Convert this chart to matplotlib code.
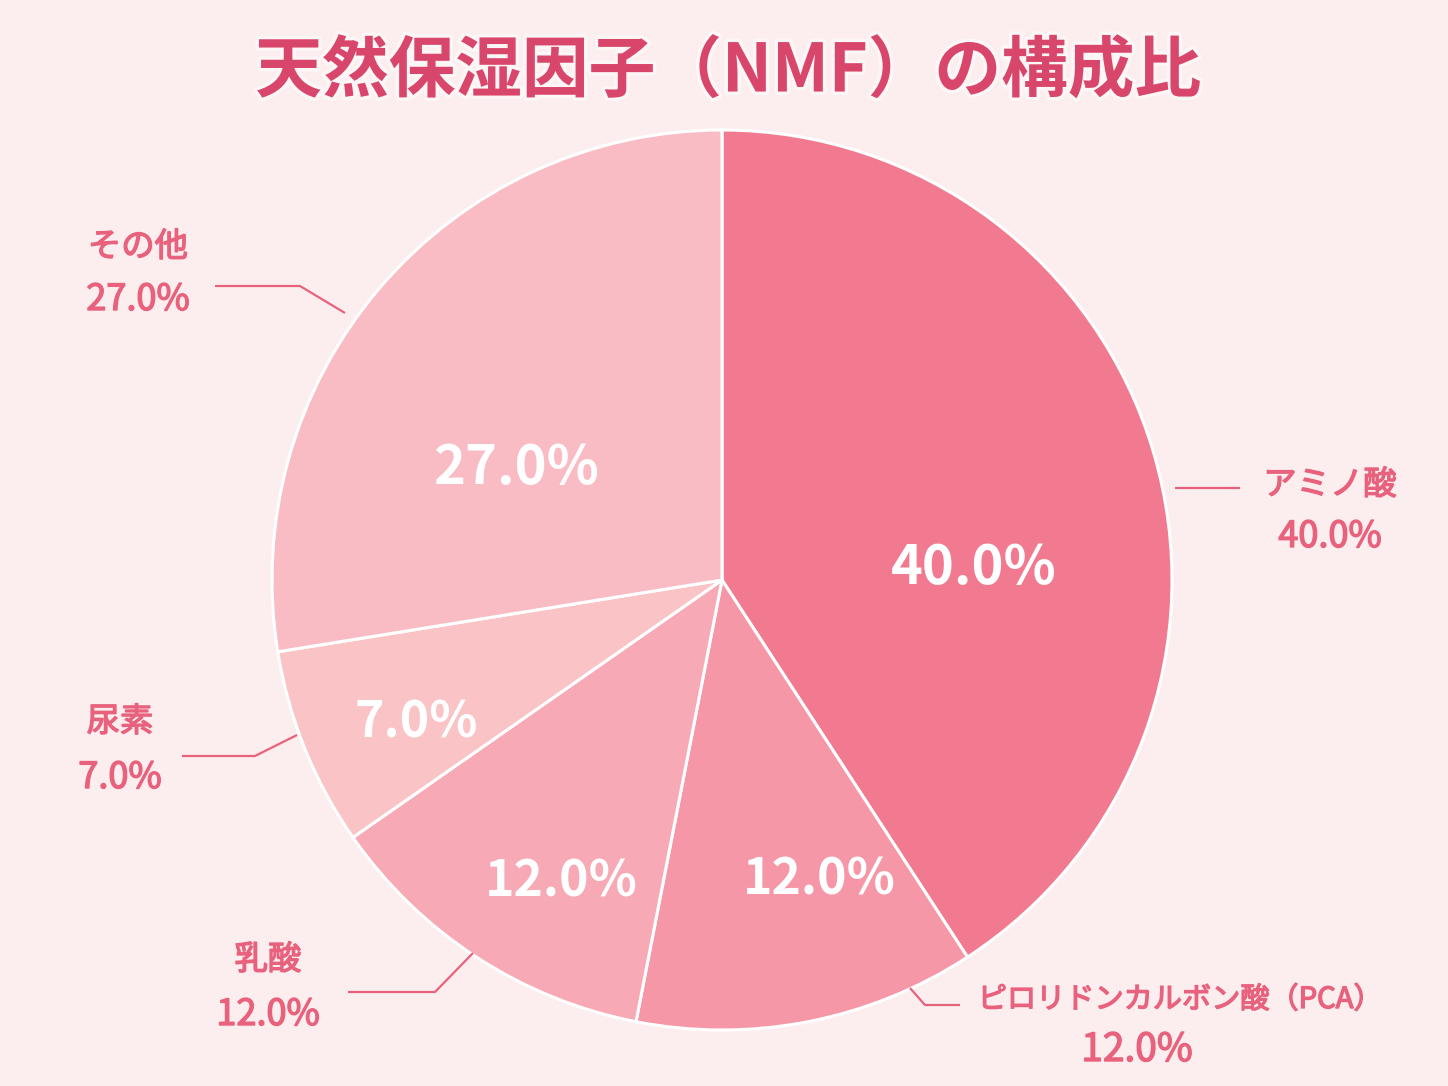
import numpy as np
import matplotlib
matplotlib.use("Agg")
import matplotlib.pyplot as plt
import matplotlib.patheffects as pe

plt.rcParams['font.family'] = ['Noto Sans CJK JP', 'DejaVu Sans']

# データ
names = ["アミノ酸", "ピロリドンカルボン酸（PCA）", "乳酸", "尿素", "その他"]
values = [40.0, 12.0, 12.0, 7.0, 27.0]
colors = ["#F27A90", "#F597A7", "#F7A9B5", "#FAC4C6", "#F9BCC5"]

BG = "#FCEEEF"
TITLE_C = "#D9466B"
LABEL_C = "#E8627E"

W, H = 1448, 1086
fig = plt.figure(figsize=(W / 100, H / 100), dpi=100, facecolor=BG)
ax = fig.add_axes([0, 0, 1, 1])
ax.set_facecolor(BG)

cx, cy, R = 722, H - 580, 450
wedges, _ = ax.pie(values, colors=colors, startangle=90, counterclock=False,
                   center=(cx, cy), radius=R, frame=True,
                   wedgeprops=dict(edgecolor="white", linewidth=2.2))
ax.set_xlim(0, W)
ax.set_ylim(0, H)
ax.set_aspect("equal")
ax.axis("off")

# 内側のパーセント
inner_r = [0.56, 0.70, 0.76, 0.75, 0.52]
inner_shift = [-14, 7, 5, 3, 12]   # 角度の微調整
for w, v, fr, sh in zip(wedges, values, inner_r, inner_shift):
    ang = np.deg2rad((w.theta1 + w.theta2) / 2 + sh)
    ax.text(cx + fr * R * np.cos(ang), cy + fr * R * np.sin(ang), f"{v:.1f}%",
            ha="center", va="center", color="white",
            fontsize=39 if v >= 20 else 36, fontweight="bold")

# 外側ラベル (x, 名前y, %のx, %y, 名前サイズ, %サイズ) とリーダー線
label_pos = [(1330, 485, 1330, 537, 24, 26),
             (1180, 1000, 1137, 1050, 21, 28),
             (268, 960, 268, 1015, 24, 26),
             (120, 722, 120, 778, 24, 26),
             (138, 247, 138, 300, 24, 26)]
leaders = [[(1175, 488), (1240, 488)],
           [(910, 988), (925, 1005), (960, 1005)],
           [(473, 953), (435, 992), (348, 992)],
           [(297, 735), (255, 756), (182, 756)],
           [(345, 313), (300, 286), (215, 286)]]

fx = [pe.withStroke(linewidth=1.0, foreground=LABEL_C)]

for name, v, (x, yn, xp, yp, fs_n, fs_p), pts in zip(names, values, label_pos, leaders):
    ax.text(x, H - yn, name, ha="center", va="center", color=LABEL_C,
            fontsize=fs_n, path_effects=fx)
    ax.text(xp, H - yp, f"{v:.1f}%", ha="center", va="center",
            color=LABEL_C, fontsize=fs_p, path_effects=fx)
    xs = [p[0] for p in pts]
    ys = [H - p[1] for p in pts]
    ax.plot(xs, ys, color=LABEL_C, lw=1.6, solid_capstyle="butt")

ax.text(728, H - 72, "天然保湿因子（NMF）の構成比", ha="center", va="center",
        color=TITLE_C, fontsize=48, fontweight="bold",
        path_effects=[pe.withStroke(linewidth=5, foreground="#FFFFFF", alpha=0.5)])

fig.savefig("out.png", dpi=100, facecolor=BG)
